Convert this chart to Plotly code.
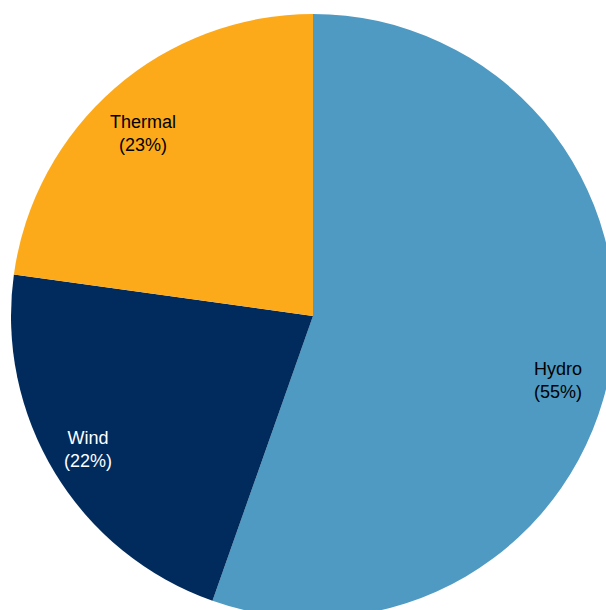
import plotly.graph_objects as go

# ---- data ----
labels = ["Hydro", "Wind", "Thermal"]
values = [55.4, 21.8, 22.8]
colors = ["#4F9AC2", "#002B5C", "#FDAA1A"]
text_colors = ["#000000", "#FFFFFF", "#000000"]

# ---- layout (pixels) ----
W, H = 626, 632
CX, CY, R = 313, 316, 302
# label centres in pixels (from top-left)
label_px = [(558, 380), (88, 449), (143, 133)]

total = sum(values)

fig = go.Figure(
    go.Pie(
        labels=labels,
        values=values,
        sort=False,
        direction="clockwise",
        rotation=0,
        marker=dict(colors=colors, line=dict(width=0)),
        textinfo="none",
        hoverinfo="label+percent",
        showlegend=False,
        domain=dict(x=[(CX - R) / W, (CX + R) / W], y=[(H - CY - R) / H, (H - CY + R) / H]),
    )
)

annotations = []
for lab, v, tc, (px, py) in zip(labels, values, text_colors, label_px):
    annotations.append(
        dict(
            x=px / W,
            y=1 - py / H,
            xref="paper",
            yref="paper",
            text=f"{lab}<br>({round(100 * v / total)}%)",
            showarrow=False,
            font=dict(family="Liberation Sans, Arial, sans-serif", size=18, color=tc),
            xanchor="center",
            yanchor="middle",
            align="center",
        )
    )

fig.update_layout(
    width=W,
    height=H,
    margin=dict(l=0, r=0, t=0, b=0),
    paper_bgcolor="white",
    plot_bgcolor="white",
    annotations=annotations,
)

fig.write_html(
    "out.html",
    config={"displayModeBar": False},
    post_script="document.body.style.margin='0';document.body.style.overflow='hidden';document.documentElement.style.overflow='hidden';",
)
